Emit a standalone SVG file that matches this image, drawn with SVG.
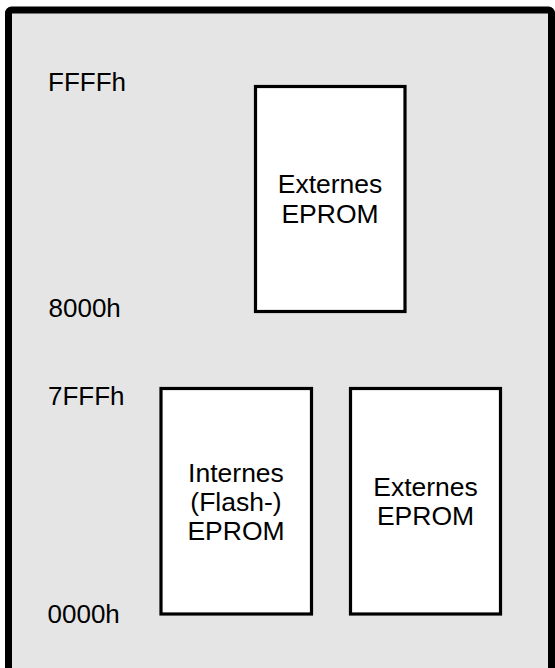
<svg xmlns="http://www.w3.org/2000/svg" width="555" height="668" viewBox="0 0 555 668">
<style>
.frame{fill:#e5e5e5;stroke:#000;stroke-width:7}
.box{fill:#fff;stroke:#000;stroke-width:3.2}
text{font-family:"Liberation Sans",Arial,sans-serif;font-size:26px;fill:#000}
.c{text-anchor:middle;font-size:26.5px}
</style>
<rect class="frame" x="8.5" y="10" width="543" height="680" rx="3"/>
<g id="labels">
<text x="48" y="90.5">FFFFh</text>
<text x="48.5" y="316.5">8000h</text>
<text x="48" y="405">7FFFh</text>
<text x="47.5" y="622.5">0000h</text>
</g>
<g id="ext-high">
<rect class="box" x="255.5" y="86.5" width="149.5" height="225"/>
<text class="c" x="330" y="193">Externes</text>
<text class="c" x="330" y="223">EPROM</text>
</g>
<g id="int-low">
<rect class="box" x="161" y="388.5" width="150.5" height="225.5"/>
<text class="c" x="236" y="481.5">Internes</text>
<text class="c" x="236" y="510.5">(Flash-)</text>
<text class="c" x="236" y="540">EPROM</text>
</g>
<g id="ext-low">
<rect class="box" x="350.5" y="388.5" width="150" height="225.5"/>
<text class="c" x="425.5" y="495.5">Externes</text>
<text class="c" x="425.5" y="525">EPROM</text>
</g>
<g id="connectors"/>
</svg>
